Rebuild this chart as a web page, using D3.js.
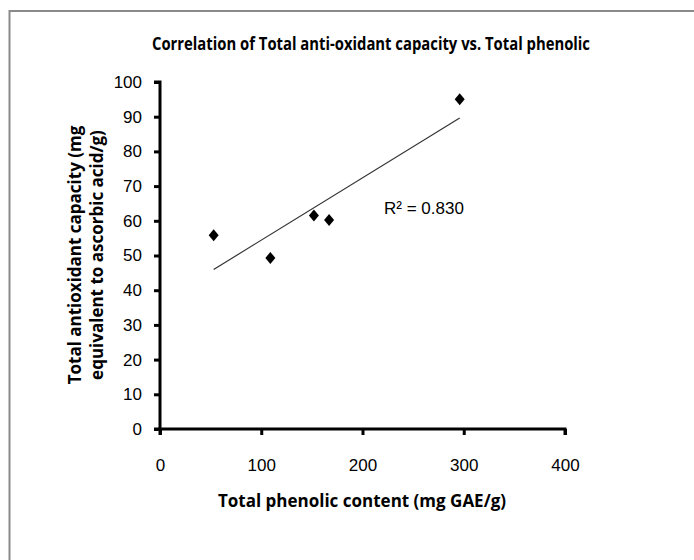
<!DOCTYPE html>
<html>
<head>
<meta charset="utf-8">
<script src="https://cdn.jsdelivr.net/npm/d3@7"></script>
<style>
  body { margin: 0; background: #fff; }
  text { font-family: "Open Sans", sans-serif; fill: #000; }
</style>
</head>
<body>
<div id="chart"></div>
<script>
// values
var phenolic = [53, 109, 152, 167, 296];
var capacity = [55.8, 49.3, 61.5, 60.2, 95.0];
var xTicks = [0, 100, 200, 300, 400];
var yTicks = [0, 10, 20, 30, 40, 50, 60, 70, 80, 90, 100];
var titleText = "Correlation of Total anti-oxidant capacity vs. Total phenolic";
var xLabel = "Total phenolic content (mg GAE/g)";
var yLabel = ["Total antioxidant capacity (mg", "equivalent to ascorbic acid/g)"];
var r2Label = "R\u00b2 = 0.830";

var width = 694, height = 560;

var svg = d3.select("#chart").append("svg")
    .attr("width", width)
    .attr("height", height);

// outer chart frame (only top and left show)
svg.append("rect")
    .attr("x", 9.5).attr("y", 11)
    .attr("width", 800).attr("height", 700)
    .attr("fill", "none")
    .attr("stroke", "#8a8a8a")
    .attr("stroke-width", 2);

var xScale = d3.scaleLinear().domain([0, 400]).range([160, 565]);
var yScale = d3.scaleLinear().domain([0, 100]).range([429, 82]);

var xAxis = d3.axisBottom(xScale).tickValues(xTicks).tickSize(6).tickPadding(24);
var yAxis = d3.axisLeft(yScale).tickValues(yTicks).tickSize(6).tickPadding(12);

var gx = svg.append("g")
    .attr("transform", "translate(0," + yScale(0) + ")")
    .call(xAxis);
var gy = svg.append("g")
    .attr("transform", "translate(" + xScale(0) + ",0)")
    .call(yAxis);

[gx, gy].forEach(function(g){
    g.select(".domain").attr("stroke", "#000").attr("stroke-width", 3);
    g.selectAll(".tick line").attr("stroke", "#000").attr("stroke-width", 3);
    g.selectAll(".tick text")
        .style("font-family", "'Liberation Sans', sans-serif")
        .attr("font-size", 17)
        .attr("fill", "#333");
});
gx.select(".domain").attr("d", "M" + xScale(0) + ",6V0H" + xScale(400) + "V6");
gy.select(".domain").attr("d", "M-6," + yScale(100) + "H0V" + yScale(0) + "H-6");

// linear trendline from least squares on the points
var mx = d3.mean(phenolic), my = d3.mean(capacity);
var sxy = d3.sum(phenolic, function(x, i){ return (x - mx) * (capacity[i] - my); });
var sxx = d3.sum(phenolic, function(x){ return (x - mx) * (x - mx); });
var slope = sxy / sxx, intercept = my - slope * mx;
var xr = d3.extent(phenolic);

svg.append("line")
    .attr("x1", xScale(xr[0])).attr("y1", yScale(intercept + slope * xr[0]))
    .attr("x2", xScale(xr[1])).attr("y2", yScale(intercept + slope * xr[1]))
    .attr("stroke", "#333")
    .attr("stroke-width", 1.2);

svg.selectAll(".pt")
    .data(phenolic).enter().append("path")
    .attr("class", "pt")
    .attr("d", "M0,-6L5,0L0,6L-5,0Z")
    .attr("transform", function(d, i){
        return "translate(" + xScale(d) + "," + yScale(capacity[i]) + ")";
    })
    .attr("fill", "#000");

svg.append("text")
    .attr("x", 384).attr("y", 214)
    .style("font-family", "'Liberation Sans', sans-serif")
    .attr("font-size", 17)
    .attr("fill", "#333")
    .text(r2Label);

svg.append("text")
    .attr("x", 371).attr("y", 50)
    .attr("text-anchor", "middle")
    .attr("font-weight", "bold")
    .attr("font-size", 17)
    .attr("textLength", 438)
    .attr("lengthAdjust", "spacingAndGlyphs")
    .text(titleText);

svg.append("text")
    .attr("x", 362).attr("y", 507)
    .attr("text-anchor", "middle")
    .attr("font-weight", "bold")
    .attr("font-size", 17)
    .text(xLabel);

svg.append("g")
    .attr("transform", "translate(0,255) rotate(-90)")
    .selectAll("text")
    .data(yLabel).enter().append("text")
    .attr("x", 0)
    .attr("y", function(d, i){ return 81 + i * 22; })
    .attr("text-anchor", "middle")
    .attr("font-weight", "bold")
    .attr("font-size", 17)
    .text(function(d){ return d; });
</script>
</body>
</html>
